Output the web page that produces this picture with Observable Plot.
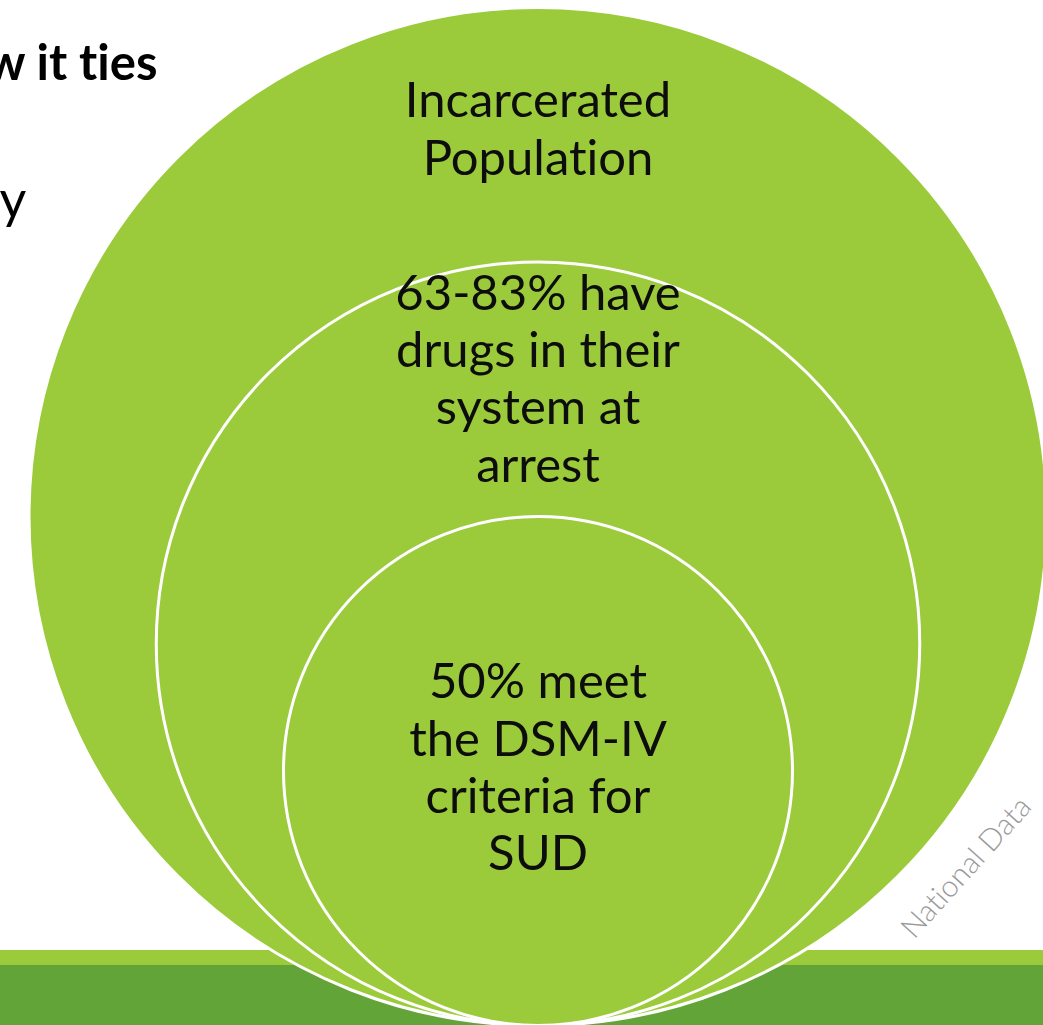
<!DOCTYPE html>
<html>
<head>
<meta charset="utf-8">
<script src="https://cdn.jsdelivr.net/npm/d3@7"></script>
<script src="https://cdn.jsdelivr.net/npm/@observablehq/plot@0.6"></script>
<style>
  html, body { margin: 0; padding: 0; background: #ffffff; overflow: hidden; }
  #chart svg { display: block; }
  #chart svg text { font-variant-ligatures: none; font-feature-settings: "liga" 0, "clig" 0; }
</style>
</head>
<body>
<div id="chart"></div>
<script>
// ---- data ----
const levels = ["Incarcerated Population", "Drugs at arrest", "Meet DSM-IV criteria for SUD"];
const relativeSize = [100, 75, 50];   // nested population share (conceptual, % of outer circle)
const levelLabels = [
  "Incarcerated\nPopulation",
  "63-83% have\ndrugs in their\nsystem at\narrest",
  "50% meet\nthe DSM-IV\ncriteria for\nSUD"
];
const slideFragments = ["ow it ties", "y"];
const sourceNote = ["National Data"];
const bandNames = ["accent", "base"];

// ---- layout (not data) ----
const W = 1043, H = 1025;
const cx = 537.5;          // common centre line of the nested circles
const baseY = 1025;        // circles are tangent at the bottom
const rMax = 509;          // pixel radius of the 100% circle
const rOf = s => s / 100 * rMax;

const circles = levels.map((name, i) => ({
  name, size: relativeSize[i], label: levelLabels[i],
  cy: baseY - rOf(relativeSize[i]),
  top: baseY - 2 * rOf(relativeSize[i])
}));
circles.forEach((c, i) => {
  c.ly = i < circles.length - 1 ? (c.top + circles[i + 1].top) / 2 - 2 - 5 * i : c.cy;
});

const bands = [
  {name: bandNames[0], y1: 950, y2: 966, fill: "#9bcb3b"},
  {name: bandNames[1], y1: 965, y2: 1025, fill: "#62a437"}
];

const font = "Lato, 'Open Sans', sans-serif";

const chart = Plot.plot({
  width: W,
  height: H,
  margin: 0,
  x: {domain: [0, W], range: [0, W], axis: null},
  y: {domain: [0, H], range: [0, H], axis: null},
  r: {type: "linear", domain: [0, 100], range: [0, rMax]},
  style: {fontFamily: font, background: "#ffffff", overflow: "hidden"},
  marks: [
    Plot.rect(bands, {x1: 0, x2: W, y1: "y1", y2: "y2", fill: "fill"}),
    Plot.dot(circles, {x: () => cx, y: "cy", r: "size", fill: "#9bcb3b", stroke: "#ffffff", strokeWidth: 3}),
    Plot.text(circles, {
      x: () => cx, y: "ly", text: "label", dy: -5,
      fontSize: 49, lineHeight: 1.17, fill: "#0d0d0d", textAnchor: "middle", lineAnchor: "middle"
    }),
    Plot.text([slideFragments[0]], {
      x: () => 157, y: () => 79, text: d => d,
      fontSize: 49, fontWeight: "bold", fill: "#000", textAnchor: "end", lineAnchor: "bottom"
    }),
    Plot.text([slideFragments[1]], {
      x: () => -1, y: () => 217, text: d => d,
      fontSize: 52, fill: "#000", textAnchor: "start", lineAnchor: "bottom"
    }),
    Plot.text(sourceNote, {
      x: () => 966, y: () => 867, text: d => d,
      fontSize: 30, fontWeight: 300, fill: "#9a9a9a", rotate: -48, textAnchor: "middle", lineAnchor: "middle"
    })
  ]
});
document.getElementById("chart").appendChild(chart);
</script>
</body>
</html>
